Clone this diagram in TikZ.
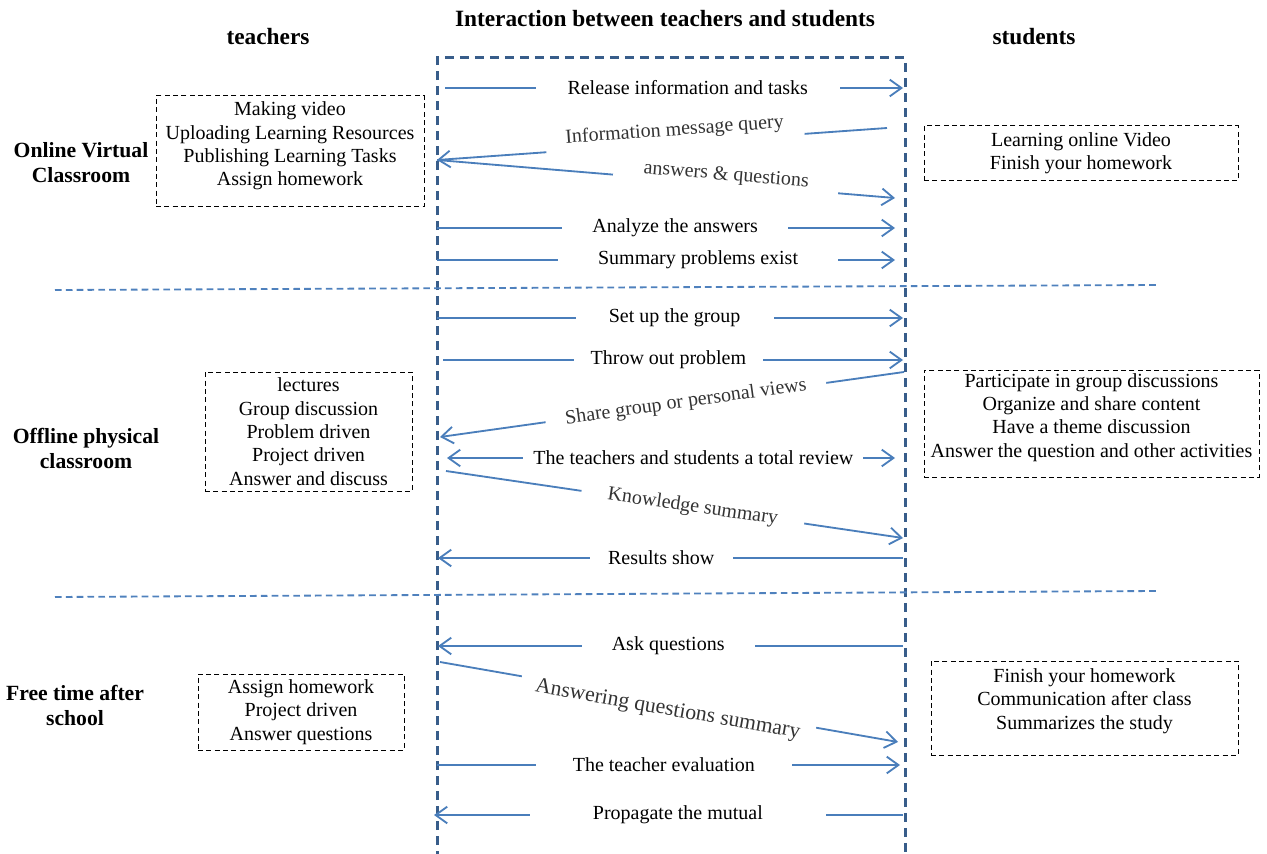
\documentclass[tikz,border=0pt]{standalone}
\usepackage{fontspec}
\setmainfont{Liberation Serif}
\usetikzlibrary{arrows.meta}
\definecolor{msgblue}{RGB}{74,126,187}
\definecolor{lineblue}{RGB}{56,93,138}
\definecolor{sepblue}{RGB}{79,129,189}
\tikzset{
  msg/.style={draw=msgblue,line width=1.1pt,>={Straight Barb[length=7pt,width=10pt]},->},
  msglbl/.style={fill=white,inner xsep=18pt,inner ysep=2pt,font=\fontsize{12}{14}\selectfont},
  tiltlbl/.style={msglbl,sloped,text=black!80,inner xsep=12pt,inner ysep=4pt},
  itembox/.style={draw=black,line width=0.6pt,dash pattern=on 3pt off 2pt,align=center,inner sep=0pt,font=\fontsize{12}{14}\selectfont},
  phase/.style={align=center,font=\fontsize{13}{15}\selectfont\bfseries},
  head/.style={font=\fontsize{14}{16}\selectfont\bfseries},
  lifeline/.style={draw=lineblue,line width=1.8pt,dash pattern=on 5.4pt off 3.6pt},
  divider/.style={draw=sepblue,line width=1.1pt,dash pattern=on 4pt off 2.5pt}
}
\begin{document}
\begin{tikzpicture}[x=0.6pt,y=-0.6pt]
\useasboundingbox (0,0) rectangle (1267,854);
% headings
\node[head] (title) at (665,19) {Interaction between teachers and students};
\node[head] (teach) at (268,37) {teachers};
\node[head] (stud) at (1034,37) {students};

% interaction frame and phase dividers
\draw[lifeline] (437,860) -- (437,58) -- (905,58) -- (905,860);
\draw[divider] (55,290) -- (1157,285);
\draw[divider] (55,597) -- (1157,591);

% phases
\node[phase] (online) at (81,163) {Online Virtual\\Classroom};
\node[phase] (offline) at (86,448) {Offline physical\\classroom};
\node[phase] (free) at (75,705) {Free time after\\school};

% activities
\node[itembox,minimum width=160.8pt,minimum height=66.6pt] (tonline) at (290,151.5)
{Making video\\Uploading Learning Resources\\Publishing Learning Tasks\\Assign homework\\[-5pt]\mbox{}};
\node[itembox,minimum width=188.4pt,minimum height=33pt] (sonline) at (1081,153.5)
{Learning online Video\\Finish your homework};
\node[itembox,minimum width=124.2pt,minimum height=71.4pt] (toffline) at (308.5,431.5)
{lectures\\Group discussion\\Problem driven\\Project driven\\Answer and discuss};
\node[itembox,minimum width=201pt,minimum height=64.2pt] (soffline) at (1091.5,423.5)
{Participate in group discussions\\Organize and share content\\Have a theme discussion\\Answer the question and other activities\\[-4pt]\mbox{}};
\node[itembox,minimum width=123.6pt,minimum height=45.6pt] (tfree) at (301,712)
{Assign homework\\Project driven\\Answer questions};
\node[itembox,minimum width=184.2pt,minimum height=56.4pt] (sfree) at (1084.5,708)
{Finish your homework\\Communication after class\\Summarizes the study\\[-3pt]\mbox{}};

% message ends: t = teacher side, s = student side
\coordinate (t1) at (445,88);   \coordinate (s1) at (903,88);
\coordinate (s2) at (887,128);  \coordinate (t2) at (437,160);
\coordinate (s3) at (895,198);
\coordinate (t4) at (437,228);  \coordinate (s4) at (895,228);
\coordinate (t5) at (437,260);  \coordinate (s5) at (895,260);
\coordinate (t6) at (437,318);  \coordinate (s6) at (903,318);
\coordinate (t7) at (443,360);  \coordinate (s7) at (903,360);
\coordinate (s8) at (904,372);  \coordinate (t8) at (440,437);
\coordinate (t9) at (447,458);  \coordinate (s9) at (895,458);
\coordinate (t10) at (446,471); \coordinate (s10) at (903,538);
\coordinate (s11) at (903,558); \coordinate (t11) at (438,558);
\coordinate (s12) at (903,646); \coordinate (t12) at (438,646);
\coordinate (t13) at (440,662); \coordinate (s13) at (898,742);
\coordinate (t14) at (437,765); \coordinate (s14) at (900,765);
\coordinate (s15) at (903,815); \coordinate (t15) at (434,815);

\draw[msg] (t1) -- node[msglbl,pos=.53,inner xsep=19pt]{Release information and tasks} (s1);
\draw[msg] (s2) -- node[tiltlbl,pos=.47,yshift=7.5pt]{Information message query} (t2);
\draw[msg] (t2) -- node[tiltlbl,pos=.63,yshift=5pt,inner xsep=18pt]{answers \& questions} (s3);
\draw[msg] (t4) -- node[msglbl,pos=.52]{Analyze the answers} (s4);
\draw[msg] (t5) -- node[msglbl,pos=.57,inner xsep=24pt]{Summary problems exist} (s5);

\draw[msg] (t6) -- node[msglbl,pos=.51,inner xsep=20pt]{Set up the group} (s6);
\draw[msg] (t7) -- node[msglbl,pos=.49,inner xsep=10pt]{Throw out problem} (s7);
\draw[msg] (s8) -- node[tiltlbl,pos=.47]{Share group or personal views} (t8);
\draw[msg,<->] (t9) -- node[msglbl,pos=.55,inner xsep=6pt]{The teachers and students a total review} (s9);
\draw[msg] (t10) -- node[tiltlbl,pos=.54,inner xsep=16pt]{Knowledge summary} (s10);
\draw[msg] (s11) -- node[msglbl,pos=.52,inner xsep=11pt]{Results show} (t11);

\draw[msg] (s12) -- node[msglbl,pos=.505]{Ask questions} (t12);
\draw[msg] (t13) -- node[tiltlbl,pos=.5,yshift=-5pt,inner xsep=9pt,font=\fontsize{13}{15}\selectfont]{Answering questions summary} (s13);
\draw[msg] (t14) -- node[msglbl,pos=.49,inner xsep=22pt]{The teacher evaluation} (s14);
\draw[msg] (s15) -- node[msglbl,pos=.48,inner xsep=38pt]{Propagate the mutual} (t15);
\end{tikzpicture}
\end{document}
